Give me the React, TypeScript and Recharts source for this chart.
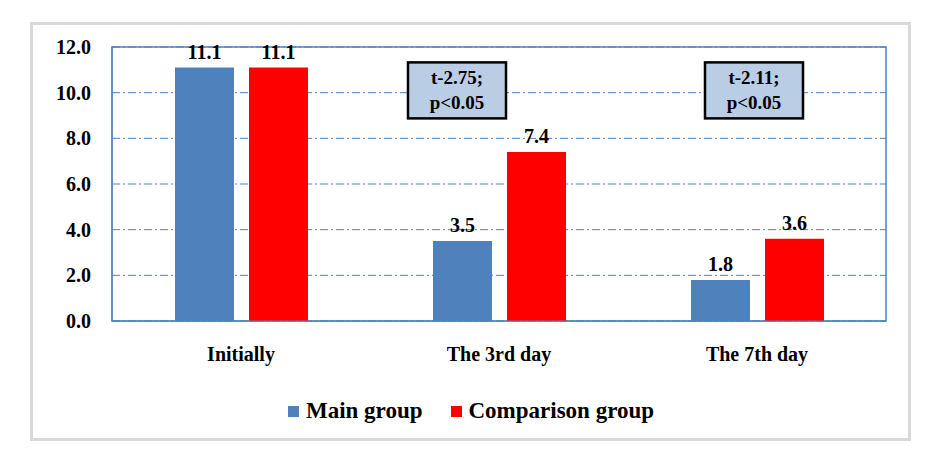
import {
  Bar,
  BarChart,
  CartesianGrid,
  LabelList,
  Legend,
  ReferenceArea,
  ReferenceDot,
  XAxis,
  YAxis,
} from "recharts";

const categories = ["Initially", "The 3rd day", "The 7th day"];
const mainGroup = [11.1, 3.5, 1.8];
const comparisonGroup = [11.1, 7.4, 3.6];
const yTicks = [0, 2, 4, 6, 8, 10, 12];
const notes = [
  { category: "The 3rd day", y: 10.1, lines: ["t-2.75;", "p<0.05"] },
  { category: "The 7th day", y: 10.1, lines: ["t-2.11;", "p<0.05"] },
];
const noteShift = [-42, -3];

const FONT = "'Liberation Serif', 'Times New Roman', serif";
const BLUE = "#4f81bd";
const RED = "#ff0000";

const data = categories.map((name, i) => ({
  name,
  main: mainGroup[i],
  comparison: comparisonGroup[i],
}));

const tickStyle = { fill: "#000", fontFamily: FONT, fontWeight: "bold", fontSize: 20 };

function NoteBox({ cx, cy, lines, shift }: any) {
  const w = 98;
  const h = 56;
  const x = cx + shift - w / 2;
  const y = cy - h / 2;
  return (
    <g>
      <rect x={x} y={y} width={w} height={h} fill="#b9cde5" stroke="#000" strokeWidth={2.5} />
      {lines.map((t: string, i: number) => (
        <text
          key={i}
          x={x + w / 2}
          y={y + 22 + i * 25}
          textAnchor="middle"
          fontFamily={FONT}
          fontWeight="bold"
          fontSize={19}
          fill="#000"
        >
          {t}
        </text>
      ))}
    </g>
  );
}

function LegendContent() {
  const items = [
    { label: "Main group", color: BLUE },
    { label: "Comparison group", color: RED },
  ];
  return (
    <div style={{ display: "flex", justifyContent: "center", gap: 28, fontFamily: FONT, paddingLeft: 4 }}>
      {items.map((it) => (
        <div key={it.label} style={{ display: "flex", alignItems: "center" }}>
          <span style={{ width: 11, height: 11, background: it.color, marginRight: 7, display: "inline-block" }} />
          <span style={{ fontWeight: "bold", fontSize: 23, color: "#000" }}>{it.label}</span>
        </div>
      ))}
    </div>
  );
}

export default function App() {
  return (
    <div style={{ position: "relative", width: 937, height: 454, background: "#fff" }}>
      <style>{`body{margin:0}`}</style>
      <div
        style={{
          position: "absolute",
          left: 30,
          top: 22,
          width: 875,
          height: 413,
          border: "3px solid #d9d9d9",
        }}
      />
      <div style={{ position: "absolute", left: 0, top: 0 }}>
        <BarChart
          width={937}
          height={454}
          data={data}
          margin={{ top: 47, right: 51, left: 52, bottom: 30 }}
          barGap={15}
          barSize={59}
        >
          <CartesianGrid
            horizontal
            vertical={false}
            stroke={BLUE}
            strokeDasharray="8 3 2 3"
          />
          <ReferenceArea y1={0} y2={12} fill="none" stroke={BLUE} strokeWidth={1.5} />
          <XAxis
            dataKey="name"
            axisLine={{ stroke: BLUE }}
            tickLine={false}
            tickMargin={20}
            height={77}
            tick={tickStyle}
          />
          <YAxis
            domain={[0, 12]}
            ticks={yTicks}
            width={60}
            axisLine={{ stroke: BLUE }}
            tickLine={false}
            tickMargin={15}
            tickFormatter={(v) => Number(v).toFixed(1)}
            tick={tickStyle}
          />
          <Legend verticalAlign="bottom" content={<LegendContent />} />
          <Bar dataKey="main" name="Main group" fill={BLUE} isAnimationActive={false}>
            <LabelList
              dataKey="main"
              position="top"
              offset={9}
              formatter={(v: any) => Number(v).toFixed(1)}
              style={tickStyle}
            />
          </Bar>
          <Bar dataKey="comparison" name="Comparison group" fill={RED} isAnimationActive={false}>
            <LabelList
              dataKey="comparison"
              position="top"
              offset={9}
              formatter={(v: any) => Number(v).toFixed(1)}
              style={tickStyle}
            />
          </Bar>
          {notes.map((n, i) => (
            <ReferenceDot
              key={n.category}
              x={n.category}
              y={n.y}
              r={0}
              shape={(p: any) => <NoteBox {...p} lines={n.lines} shift={noteShift[i]} />}
            />
          ))}
        </BarChart>
      </div>
    </div>
  );
}
